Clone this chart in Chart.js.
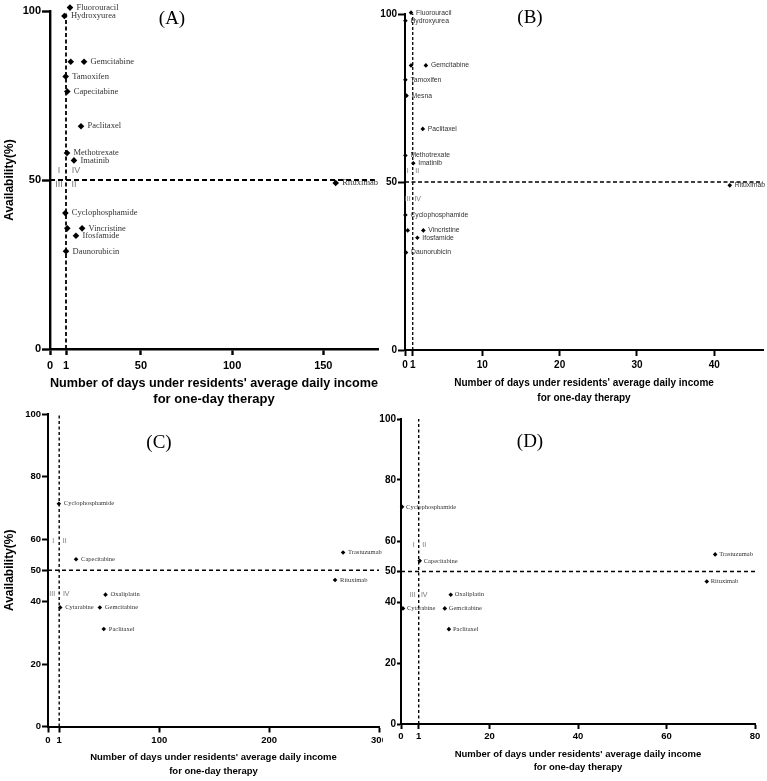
<!DOCTYPE html>
<html>
<head>
<meta charset="utf-8">
<script src="https://cdn.jsdelivr.net/npm/chart.js@4.4.1/dist/chart.umd.min.js"></script>
<style>
  html, body { margin: 0; padding: 0; background: #fff; }
  body { width: 767px; height: 781px; position: relative; overflow: hidden; }
  canvas { position: absolute; }
</style>
</head>
<body>
<canvas id="panelA" width="383" height="408" style="left:0;top:0"></canvas>
<canvas id="panelB" width="387" height="406" style="left:380px;top:0"></canvas>
<canvas id="panelC" width="383" height="377" style="left:0;top:404px"></canvas>
<canvas id="panelD" width="391" height="377" style="left:376px;top:404px"></canvas>
<script>
// cut-off lines: 1 day of income, 50% availability
const cutDays = 1;
const cutAvail = 50;

// (A)
const drugsA = ['Fluorouracil', 'Hydroxyurea', '', 'Gemcitabine', 'Tamoxifen', 'Capecitabine', 'Paclitaxel', 'Methotrexate', 'Imatinib', 'Rituximab', 'Cyclophosphamide', '', 'Vincristine', 'Ifosfamide', 'Daunorubicin'];
const daysA = [3.6, 0.9, 4.1, 12.8, 0.98, 1.85, 10.8, 1.65, 6.2, 156.8, 0.96, 1.85, 11.5, 7.5, 1.0];
const availA = [101, 98.5, 85, 85, 80.6, 76.2, 65.9, 58, 55.8, 49.1, 40.2, 35.7, 35.7, 33.5, 28.9];
const xTicksA = [0, 1, 50, 100, 150];
const yTicksA = [0, 50, 100];

// (B)
const drugsB = ['Fluorouracil', 'Hydroxyurea', '', 'Gemcitabine', 'Tamoxifen', 'Mesna', 'Paclitaxel', 'Methotrexate', 'Imatinib', 'Rituximab', 'Cyclophosphamide', '', 'Vincristine', 'Ifosfamide', 'Daunorubicin'];
const daysB = [0.78, 0.05, 0.78, 2.7, 0.05, 0.2, 2.3, 0.05, 1.07, 42.0, 0.05, 0.35, 2.37, 1.6, 0.13];
const availB = [100.4, 98, 84.7, 84.7, 80.4, 75.7, 65.8, 57.9, 55.6, 49.0, 40.2, 35.6, 35.6, 33.4, 29];
const xTicksB = [0, 1, 10, 20, 30, 40];
const yTicksB = [0, 50, 100];

// (C)
const drugsC = ['Cyclophosphamide', 'Capecitabine', 'Trastuzumab', 'Rituximab', 'Oxaliplatin', 'Cytarabine', 'Gemcitabine', 'Paclitaxel'];
const daysC = [0.97, 17.7, 267.3, 260, 46.8, 2, 41.2, 45.1];
const availC = [71.3, 53.5, 55.7, 46.9, 42.2, 38.1, 38.1, 31.2];
const xTicksC = [0, 1, 100, 200, 300];
const yTicksC = [0, 20, 40, 50, 60, 80, 100];

// (D)
const drugsD = ['Cyclophosphamide', 'Capecitabine', 'Trastuzumab', 'Rituximab', 'Oxaliplatin', 'Cytarabine', 'Gemcitabine', 'Paclitaxel'];
const daysD = [0.06, 1.27, 71, 69.1, 9.6, 0.11, 8, 9.1];
const availD = [71.2, 53.5, 55.6, 46.7, 42.4, 37.9, 37.9, 31.1];
const xTicksD = [0, 1, 20, 40, 60, 80];
const yTicksD = [0, 20, 40, 50, 60, 80, 100];

const quadA = ['I', 'IV', 'III', 'II'];
const quadStd = ['I', 'II', 'III', 'IV'];

const xTitle = ["Number of days under residents' average daily income", 'for one-day therapy'];
const yTitle = 'Availability(%)';

const sans = "'Liberation Sans', Arial, sans-serif";
const serif = "'Liberation Serif', 'Times New Roman', serif";

// linear axis with segments (the 0-1 part is stretched, like the original)
class PiecewiseScale extends Chart.LinearScale {
  static id = 'piecewise';
  static defaults = {};
  _frac(v) {
    const b = this.options.breaks, f = this.options.stops;
    let i = 1;
    while (i < b.length - 1 && v > b[i]) i++;
    return f[i - 1] + (v - b[i - 1]) / (b[i] - b[i - 1]) * (f[i] - f[i - 1]);
  }
  getPixelForValue(value) {
    if (value === null || isNaN(value)) return NaN;
    return this.getPixelForDecimal(this._frac(value));
  }
  getValueForPixel(pixel) {
    const d = this.getDecimalForPixel(pixel);
    const b = this.options.breaks, f = this.options.stops;
    let i = 1;
    while (i < f.length - 1 && d > f[i]) i++;
    return b[i - 1] + (d - f[i - 1]) / (f[i] - f[i - 1]) * (b[i] - b[i - 1]);
  }
}
Chart.register(PiecewiseScale);

const panelText = {
  id: 'panelText',
  afterDatasetsDraw(chart, args, o) {
    if (!o || !o.names) return;
    const c = chart.ctx;
    const pts = chart.getDatasetMeta(0).data;
    c.save();
    c.textBaseline = 'middle';
    c.textAlign = 'left';
    c.fillStyle = '#333';
    c.font = o.labelFont;
    pts.forEach((pt, i) => {
      if (o.names[i]) c.fillText(o.names[i], pt.x + o.gap, pt.y);
    });
    // quadrant numbers around the crossing of the cut-off lines
    const cx = chart.scales.x.getPixelForValue(cutDays);
    const cy = chart.scales.y.getPixelForValue(cutAvail);
    c.textAlign = 'center';
    c.fillStyle = '#777';
    c.font = o.quadFont;
    o.quadNames.forEach((q, i) => c.fillText(q, cx + o.quadDx[i], cy + o.quadDy[i]));
    c.font = '19px ' + serif;
    c.fillStyle = '#000';
    c.fillText(o.letter, o.letterX, o.letterY);
    c.restore();
  }
};
Chart.register(panelText);

function makePanel(id, p) {
  const ctx = document.getElementById(id).getContext('2d');
  const pts = p.days.map((d, i) => ({ x: d, y: p.avail[i] }));
  return new Chart(ctx, {
    type: 'scatter',
    data: {
      datasets: [{
        data: pts,
        backgroundColor: '#000',
        borderColor: '#000',
        borderWidth: 0,
        pointStyle: 'rectRot',
        pointRadius: p.marker,
        clip: false,
      }, {
        data: [{ x: cutDays, y: 0 }, { x: cutDays, y: 100 }],
        showLine: true,
        borderColor: '#000',
        borderWidth: p.dashW,
        borderDash: p.dashV,
        pointRadius: 0,
        clip: false,
      }, {
        data: [{ x: 0, y: cutAvail }, { x: p.xMax, y: cutAvail }],
        showLine: true,
        borderColor: '#000',
        borderWidth: p.dashW,
        borderDash: p.dashH,
        pointRadius: 0,
        clip: false,
      }]
    },
    options: {
      responsive: false,
      animation: false,
      devicePixelRatio: 1,
      events: [],
      layout: { padding: p.pad },
      plugins: {
        legend: { display: false },
        tooltip: { enabled: false },
        panelText: {
          names: p.names, gap: p.gap, labelFont: p.labelFont,
          quadNames: p.quadNames, quadDx: p.quadDx, quadDy: p.quadDy, quadFont: p.quadFont,
          letter: p.letter, letterX: p.letterPos[0], letterY: p.letterPos[1],
        },
      },
      scales: {
        x: {
          type: 'piecewise',
          min: 0,
          max: p.xMax,
          breaks: p.breaks,
          stops: p.stops,
          afterBuildTicks: s => { s.ticks = p.xTicks.map(v => ({ value: v })); },
          afterFit: s => { s.height = p.xH; s.paddingLeft = 0; s.paddingRight = 0; },
          border: { color: '#000', width: p.axisW },
          grid: { display: true, drawOnChartArea: false, drawTicks: true, tickLength: p.xTickLen, tickColor: '#000', tickWidth: p.axisW },
          ticks: {
            autoSkip: false, maxRotation: 0, color: '#000', padding: p.xTickPad,
            font: { family: sans, size: p.xTickSize, weight: 'bold' },
            callback: v => String(v),
          },
          title: {
            display: true, text: xTitle, color: '#000',
            font: { family: sans, size: p.xTitleSize, weight: 'bold', lineHeight: p.xTitleLH },
            padding: { top: 0, bottom: p.xTitlePad },
          },
        },
        y: {
          min: 0,
          max: 100,
          afterBuildTicks: s => { s.ticks = p.yTicks.map(v => ({ value: v })); },
          afterFit: s => { s.width = p.yW; s.paddingTop = 0; s.paddingBottom = 0; },
          border: { color: '#000', width: p.axisW },
          grid: { display: true, drawOnChartArea: false, drawTicks: true, tickLength: p.yTickLen, tickColor: '#000', tickWidth: p.axisW },
          ticks: {
            color: '#000', padding: 1,
            font: { family: sans, size: p.yTickSize, weight: 'bold' },
            callback: v => String(v),
          },
          title: {
            display: p.showYTitle, text: yTitle, color: '#000',
            font: { family: sans, size: 12, weight: 'bold' },
            padding: { top: 2, bottom: 0 },
          },
        },
      },
    },
  });
}

makePanel('panelA', {
  names: drugsA, days: daysA, avail: availA, xTicks: xTicksA, yTicks: yTicksA,
  xMax: 180, breaks: [0, 1, 50, 180], stops: [0, 0.0488, 0.2774, 1],
  pad: { left: 0, right: 5, top: 11, bottom: 0 }, xH: 59, yW: 50,
  axisW: 2.4, marker: 3.3, dashW: 1.8, dashV: [4, 2.5], dashH: [5, 3],
  xTickLen: 6, xTickPad: 4, xTickSize: 11, yTickLen: 8, yTickSize: 11,
  xTitleSize: 13, xTitleLH: '16px', xTitlePad: 1, showYTitle: true,
  gap: 6.5, labelFont: '8.5px ' + serif,
  quadNames: quadA, quadDx: [-7, 10, -7, 8], quadDy: [-9, -9, 5, 5], quadFont: '9px ' + sans,
  letter: '(A)', letterPos: [172, 19],
});

makePanel('panelB', {
  names: drugsB, days: daysB, avail: availB, xTicks: xTicksB, yTicks: yTicksB,
  xMax: 46.3, breaks: [0, 46.3], stops: [0, 1],
  pad: { left: 0, right: 4, top: 14, bottom: 0 }, xH: 56, yW: 25,
  axisW: 2, marker: 2.3, dashW: 1.3, dashV: [3, 2], dashH: [4, 2.5],
  xTickLen: 6, xTickPad: 3, xTickSize: 10, yTickLen: 7, yTickSize: 10,
  xTitleSize: 10, xTitleLH: '15px', xTitlePad: 0, showYTitle: false,
  gap: 5, labelFont: '6.8px ' + sans,
  quadNames: quadStd, quadDx: [-5, 4.5, -5, 5], quadDy: [-11, -11, 17, 17], quadFont: '7px ' + sans,
  letter: '(B)', letterPos: [150, 18.5],
});

makePanel('panelC', {
  names: drugsC, days: daysC, avail: availC, xTicks: xTicksC, yTicks: yTicksC,
  xMax: 300, breaks: [0, 1, 100, 300], stops: [0, 0.0338, 0.3362, 1],
  pad: { left: 0, right: 1, top: 10, bottom: 0 }, xH: 54.5, yW: 48,
  axisW: 2, marker: 2.3, dashW: 1.4, dashV: [3, 2.5], dashH: [4, 3],
  xTickLen: 6, xTickPad: 2, xTickSize: 9.5, yTickLen: 6, yTickSize: 9.5,
  xTitleSize: 9.5, xTitleLH: '14px', xTitlePad: 3, showYTitle: true,
  gap: 5, labelFont: '6.5px ' + serif,
  quadNames: quadStd, quadDx: [-6, 5.5, -7, 7], quadDy: [-29, -29, 24, 24], quadFont: '7px ' + sans,
  letter: '(C)', letterPos: [159, 39],
});

makePanel('panelD', {
  names: drugsD, days: daysD, avail: availD, xTicks: xTicksD, yTicks: yTicksD,
  xMax: 80, breaks: [0, 1, 20, 80], stops: [0, 0.05, 0.25, 1],
  pad: { left: 0, right: 12, top: 15, bottom: 0 }, xH: 57, yW: 25,
  axisW: 2, marker: 2.3, dashW: 1.4, dashV: [3, 2.5], dashH: [4, 3],
  xTickLen: 5, xTickPad: 2, xTickSize: 9.5, yTickLen: 4, yTickSize: 10,
  xTitleSize: 9.5, xTitleLH: '13px', xTitlePad: 7.5, showYTitle: false,
  gap: 4, labelFont: '6.5px ' + serif,
  quadNames: quadStd, quadDx: [-5, 5.5, -6, 5.5], quadDy: [-26, -26, 24, 24], quadFont: '7px ' + sans,
  letter: '(D)', letterPos: [154, 38],
});
</script>
</body>
</html>
